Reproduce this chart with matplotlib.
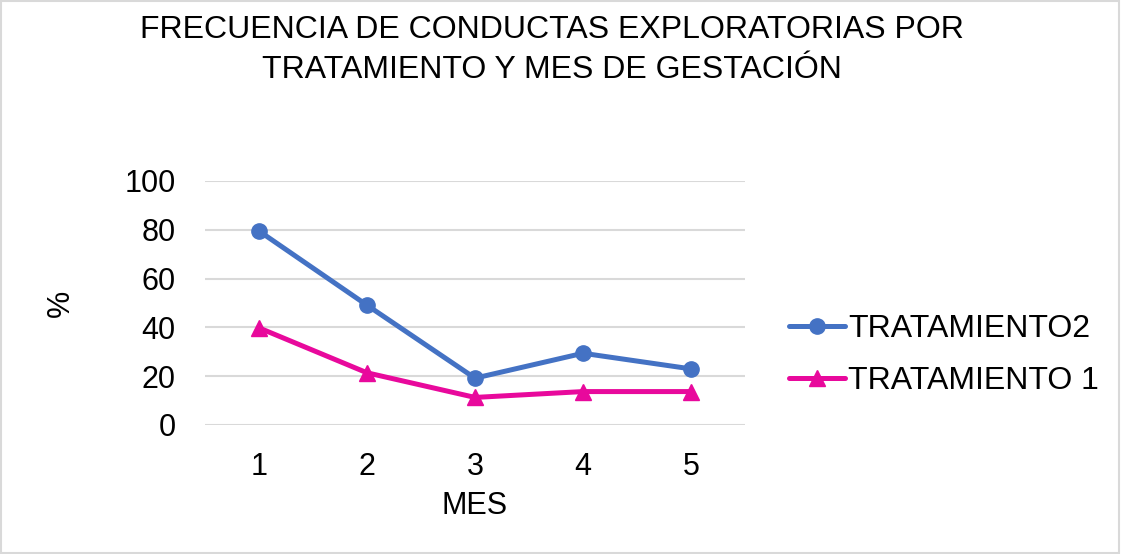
import matplotlib
matplotlib.use("Agg")
import matplotlib.pyplot as plt
from matplotlib.patches import Rectangle

plt.rcParams['font.family'] = ['Liberation Sans', 'DejaVu Sans']

meses = [1, 2, 3, 4, 5]
tratamiento2 = [79.5, 49.1, 19.2, 29.4, 23.0]
tratamiento1 = [39.8, 21.4, 11.3, 13.7, 13.7]

fig = plt.figure(figsize=(11.21, 5.54), dpi=100)
ax = fig.add_axes([205 / 1121, 1 - 425 / 554, 540 / 1121, 244 / 554])

ax.plot(meses, tratamiento2, color='#4472C4', lw=3.6, marker='o', ms=11,
        label='TRATAMIENTO2', solid_capstyle='round')
ax.plot(meses, tratamiento1, color='#E8099C', lw=3.6, marker='^', ms=12,
        label='TRATAMIENTO 1', solid_capstyle='round')

ax.set_xlim(0.5, 5.5)
ax.set_ylim(0, 100)
ax.set_xticks(meses)
ax.set_yticks(range(0, 101, 20))
ax.tick_params(length=0, labelsize=22)
ax.tick_params(axis='y', pad=21)
ax.tick_params(axis='x', pad=19.5)
ax.yaxis.grid(True, color='#D9D9D9', lw=1.5)
ax.set_axisbelow(True)
for s in ax.spines.values():
    s.set_visible(False)

ax.set_xlabel('MES', fontsize=22, va='center')
ax.xaxis.set_label_coords(0.5, -0.332)
ax.set_ylabel('%', fontsize=22, va='center')
ax.yaxis.set_label_coords(-0.267, 0.5)

fig.text(552 / 1121, 1 - 50 / 554,
         'FRECUENCIA DE CONDUCTAS EXPLORATORIAS POR\nTRATAMIENTO Y MES DE GESTACIÓN',
         fontsize=23, ha='center', va='center', linespacing=1.42)

ax.legend(loc='center left', bbox_to_anchor=(760 / 1121, 1 - 355 / 554),
          bbox_transform=fig.transFigure, frameon=False, fontsize=23,
          handlelength=1.75, handletextpad=0.12, labelspacing=0.68)

fig.patches.append(Rectangle((0.001, 0.001), 0.997, 0.997, transform=fig.transFigure,
                             fill=False, edgecolor='#D9D9D9', lw=1.5))

fig.savefig('out.png', dpi=100)
